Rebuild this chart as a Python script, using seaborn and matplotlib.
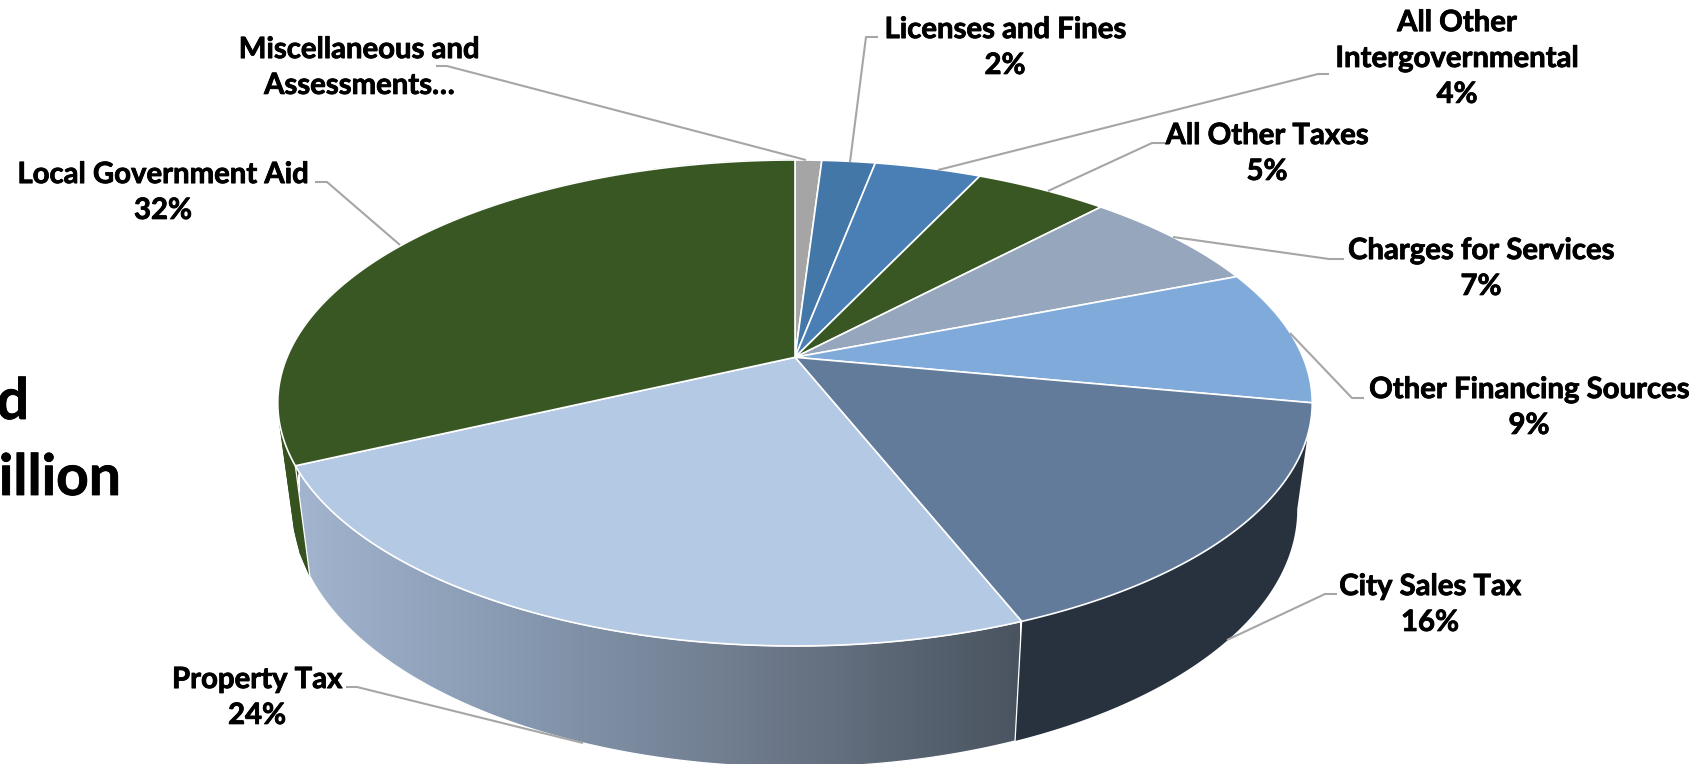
import numpy as np
import matplotlib
matplotlib.use("Agg")
import matplotlib.pyplot as plt
import matplotlib.patheffects as pe
from matplotlib.collections import PolyCollection
from matplotlib.colors import LinearSegmentedColormap
from matplotlib.patches import Polygon
import seaborn as sns

# Revenue shares, clockwise from twelve o'clock
categories = ["Miscellaneous and\nAssessments…", "Licenses and Fines",
              "All Other\nIntergovernmental", "All Other Taxes",
              "Charges for Services", "Other Financing Sources",
              "City Sales Tax", "Property Tax", "Local Government Aid"]
shares = [1, 2, 4, 5, 7, 9, 16, 24, 32]
top_colors = ["#a5a5a5", "#4377a7", "#4a7fb5", "#385723", "#96a6bc",
              "#7faad9", "#637b9b", "#b4c9e4", "#385723"]

# Label anchor and leader line for each slice, in figure pixels
label_centers = [(359, 68), (1005, 48), (1457, 59), (1267, 154), (1481, 269),
                 (1529, 408), (1430, 605), (257, 698), (163, 193)]
leaders = [
    [(436, 66), (447, 66), (806, 160)],
    [(878, 37), (866, 37), (850, 162)],
    [(1329, 74), (1318, 74), (938, 170)],
    [(1165, 143), (1152, 143), (1048, 191)],
    [(1344, 259), (1329, 259), (1173, 237)],
    [(1364, 398), (1352, 398), (1290, 333)],
    [(1337, 594), (1325, 594), (1227, 640)],
    [(346, 687), (357, 687), (583, 743)],
    [(315, 182), (327, 182), (400, 245)],
]

sns.set_theme(style="white")
plt.rcParams["font.family"] = ["Lato", "DejaVu Sans"]
palette = sns.color_palette(top_colors)

W, H = 1708, 764
fig = plt.figure(figsize=(W / 100, H / 100), dpi=100, facecolor="white")
ax = fig.add_axes([0, 0, 1, 1])
ax.set_xlim(0, W)
ax.set_ylim(H, 0)
ax.axis("off")

# Perspective camera for the tilted disc
CX, CY, RX, RY, K = 795.0, 357.3, 508.0, 234.4, 0.188
DEPTH_X, DEPTH_Y, BASE_Y = 0.971, 1.06, 461.0


def top_rim(theta):
    u, v = np.sin(theta), np.cos(theta)
    w = 1 + K * v
    return CX + RX * u / w, CY - RY * v / w


def base_rim(theta):
    x, y = top_rim(theta)
    return CX + DEPTH_X * (x - CX), BASE_Y + DEPTH_Y * (y - CY)


def arc(a0, a1):
    return np.linspace(a0, a1, max(int(abs(a1 - a0) * 120), 8))


edges = 2 * np.pi * np.cumsum([0] + shares) / sum(shares)


def wall_outline(a0, a1):
    t = arc(a0, a1)
    xt, yt = top_rim(t)
    xb, yb = base_rim(t[::-1])
    return np.column_stack([np.r_[xt, xb], np.r_[yt, yb]])


def wall_bands(a0, a1, count=24):
    """Wide quads between the rims; they fill out the silhouette's tangent edge."""
    t = np.linspace(a0, a1, count + 1)
    xt, yt = top_rim(t)
    xb, yb = base_rim(t)
    return [[(xt[i], yt[i]), (xt[i + 1], yt[i + 1]), (xb[i + 1], yb[i + 1]), (xb[i], yb[i])]
            for i in range(count)]


# Solid outer walls of Local Government Aid and City Sales Tax
ax.add_patch(Polygon(wall_outline(edges[8], edges[9]), closed=True,
                     fc="#35521f", ec="none", zorder=1))
ax.add_collection(PolyCollection(wall_bands(edges[8], edges[9]), facecolors="#35521f",
                                 edgecolors="#35521f", linewidths=0.6, zorder=1))
ax.add_patch(Polygon(wall_outline(edges[6], edges[7]), closed=True,
                     fc="#28323f", ec="none", zorder=1))

# Property Tax wall with its left-to-right shading
property_wall = Polygon(wall_outline(edges[7], edges[8]), closed=True,
                        fc="none", ec="white", lw=0.9, zorder=3)
ax.add_patch(property_wall)
shade = LinearSegmentedColormap.from_list("wall", ["#a2b4ce", "#8496ad", "#6b7788", "#4a5460"])
img = ax.imshow(np.linspace(0, 1, 512)[None, :], extent=(300, 1020, 768, 470),
                cmap=shade, aspect="auto", zorder=2)
img.set_clip_path(property_wall)
ax.set_xlim(0, W)
ax.set_ylim(H, 0)

# Top face, one wedge per share
for i, color in enumerate(palette):
    xs, ys = top_rim(arc(edges[i], edges[i + 1]))
    poly = np.column_stack([np.r_[CX, xs], np.r_[CY, ys]])
    ax.add_patch(Polygon(poly, closed=True, fc=color, ec="white", lw=1.2,
                         joinstyle="round", zorder=4))

# Leader lines
for pts in leaders:
    px, py = zip(*pts)
    ax.plot(px, py, color="#a6a6a6", lw=1.5, solid_capstyle="butt", zorder=5)

# Slice labels, thickened slightly with a hairline stroke
heavier = [pe.withStroke(linewidth=0.6, foreground="black")]
for name, share, (x, y) in zip(categories, shares, label_centers):
    text = name if name.endswith("…") else f"{name}\n{share}%"
    ax.text(x, y, text, ha="center", va="center", ma="center", fontsize=21.1,
            fontweight="bold", color="black", linespacing=1.47, zorder=6,
            path_effects=heavier)

# Title fragments running off the left edge
ax.text(29, 419, "d", ha="right", va="baseline", fontsize=41,
        fontweight="bold", color="black", path_effects=heavier)
ax.text(121, 495, "illion", ha="right", va="baseline", fontsize=41,
        fontweight="bold", color="black", path_effects=heavier)

fig.savefig("out.png", dpi=100, facecolor="white")
